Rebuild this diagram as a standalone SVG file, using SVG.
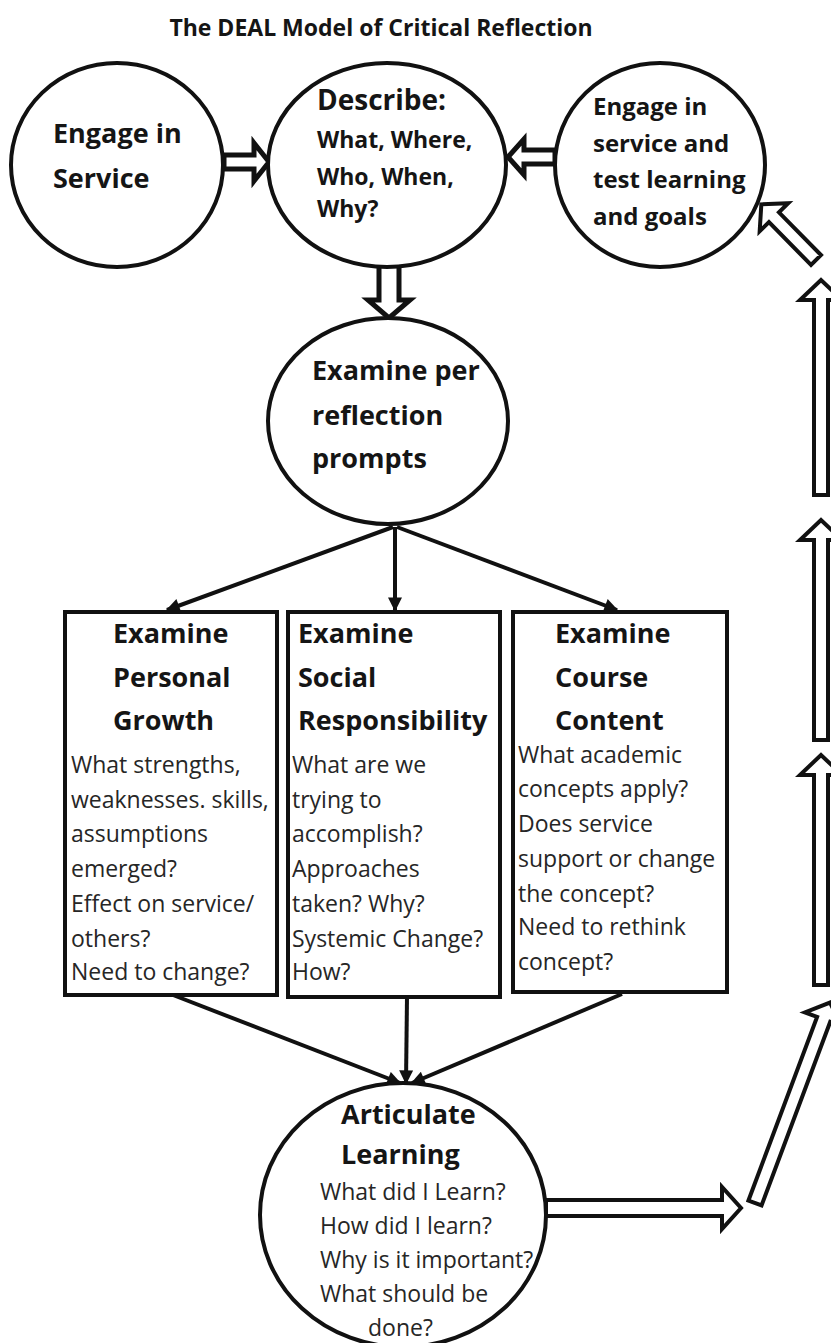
<svg xmlns="http://www.w3.org/2000/svg" width="831" height="1343" viewBox="0 0 831 1343">
<style>
.bg{fill:#ffffff}
.node{fill:#ffffff;stroke:#111;stroke-width:4}
.h{font-family:"Open Sans","Liberation Sans",sans-serif;font-weight:bold;fill:#151515}
.b{font-family:"Open Sans","Liberation Sans",sans-serif;font-weight:normal;fill:#262626}
.line{stroke:#111;stroke-width:4;fill:none}
.block{fill:#ffffff;stroke:#111;stroke-linejoin:miter}
</style>
<defs>
<marker id="ah" viewBox="0 0 10 10" refX="9" refY="5" markerWidth="16" markerHeight="14" markerUnits="userSpaceOnUse" orient="auto">
<path d="M0,0 L10,5 L0,10 z" fill="#111"/>
</marker>
</defs>
<rect class="bg" x="0" y="0" width="831" height="1343"/>
<text class="h" x="381" y="36" font-size="23" text-anchor="middle">The DEAL Model of Critical Reflection</text>

<g id="connectors">
<path class="block" stroke-width="5" d="M224,155 L254,155 L254,143 L269,162 L254,181 L254,169 L224,169 Z"/>
<path class="block" stroke-width="5" d="M555,150 L524,150 L524,139 L508,157 L524,175 L524,164 L555,164 Z"/>
<path class="block" stroke-width="5" d="M379,264 L379,300 L368,300 L389,318 L410,300 L399,300 L399,264 Z"/>
<line class="line" x1="393" y1="527" x2="167" y2="610" marker-end="url(#ah)"/>
<line class="line" x1="395" y1="527" x2="395" y2="610" marker-end="url(#ah)"/>
<line class="line" x1="397" y1="527" x2="617" y2="610" marker-end="url(#ah)"/>
<line class="line" x1="173" y1="995" x2="400" y2="1083" marker-end="url(#ah)"/>
<line class="line" x1="407" y1="997" x2="406" y2="1083" marker-end="url(#ah)"/>
<line class="line" x1="622" y1="994" x2="412" y2="1083" marker-end="url(#ah)"/>
<path class="block" stroke-width="4" d="M546,1200 L722,1200 L722,1187 L741,1208 L722,1229 L722,1216 L546,1216 Z"/>
<path class="block" stroke-width="4" transform="translate(755,1203) rotate(-69.5)" d="M0,-7 L196,-7 L196,-20 L214,0 L196,20 L196,7 L0,7 Z"/>
<path class="block" stroke-width="4" d="M814,985 L814,775 L800,775 L821,755 L842,775 L828,775 L828,985 Z"/>
<path class="block" stroke-width="4" d="M814,740 L814,540 L800,540 L821,520 L842,540 L828,540 L828,740 Z"/>
<path class="block" stroke-width="4" d="M814,495 L814,300 L800,300 L821,280 L842,300 L828,300 L828,495 Z"/>
<path class="block" stroke-width="4" transform="translate(816,260) rotate(-134.5)" d="M0,-7 L60,-7 L60,-20 L78,0 L60,20 L60,7 L0,7 Z"/>
</g>

<g id="engage">
<ellipse class="node" cx="117" cy="165" rx="106" ry="102"/>
<text class="h" font-size="27" x="53" y="143">Engage in</text>
<text class="h" font-size="27" x="53" y="188">Service</text>
</g>

<g id="describe">
<ellipse class="node" cx="387" cy="165" rx="119" ry="102"/>
<text class="h" font-size="28" x="317" y="110">Describe:</text>
<text class="h" font-size="23" x="317" y="148">What, Where,</text>
<text class="h" font-size="23" x="317" y="185">Who, When,</text>
<text class="h" font-size="23" x="317" y="217">Why?</text>
</g>

<g id="engage-test">
<ellipse class="node" cx="660" cy="165" rx="105" ry="102"/>
<text class="h" font-size="24" x="593" y="115">Engage in</text>
<text class="h" font-size="24" x="593" y="152">service and</text>
<text class="h" font-size="24" x="593" y="188">test learning</text>
<text class="h" font-size="24" x="593" y="225">and goals</text>
</g>

<g id="examine">
<ellipse class="node" cx="388" cy="421" rx="120" ry="103"/>
<text class="h" font-size="27" x="312" y="380">Examine per</text>
<text class="h" font-size="27" x="312" y="425">reflection</text>
<text class="h" font-size="27" x="312" y="468">prompts</text>
</g>

<g id="personal">
<rect class="node" x="65" y="612" width="212" height="383"/>
<text class="h" font-size="27" x="113" y="643">Examine</text>
<text class="h" font-size="27" x="113" y="687">Personal</text>
<text class="h" font-size="27" x="113" y="730">Growth</text>
<g class="b" font-size="23">
<text x="71" y="773">What strengths,</text>
<text x="71" y="808">weaknesses. skills,</text>
<text x="71" y="842">assumptions</text>
<text x="71" y="877">emerged?</text>
<text x="71" y="912">Effect on service/</text>
<text x="71" y="947">others?</text>
<text x="71" y="980">Need to change?</text>
</g>
</g>

<g id="social">
<rect class="node" x="288" y="612" width="212" height="385"/>
<text class="h" font-size="27" x="298" y="643">Examine</text>
<text class="h" font-size="27" x="298" y="687">Social</text>
<text class="h" font-size="27" x="298" y="730">Responsibility</text>
<g class="b" font-size="23">
<text x="292" y="773">What are we</text>
<text x="292" y="808">trying to</text>
<text x="292" y="842">accomplish?</text>
<text x="292" y="877">Approaches</text>
<text x="292" y="912">taken? Why?</text>
<text x="292" y="947">Systemic Change?</text>
<text x="292" y="980">How?</text>
</g>
</g>

<g id="course">
<rect class="node" x="513" y="612" width="214" height="380"/>
<text class="h" font-size="27" x="555" y="643">Examine</text>
<text class="h" font-size="27" x="555" y="687">Course</text>
<text class="h" font-size="27" x="555" y="730">Content</text>
<g class="b" font-size="23">
<text x="518" y="763">What academic</text>
<text x="518" y="797">concepts apply?</text>
<text x="518" y="832">Does service</text>
<text x="518" y="867">support or change</text>
<text x="518" y="902">the concept?</text>
<text x="518" y="935">Need to rethink</text>
<text x="518" y="970">concept?</text>
</g>
</g>

<g id="articulate">
<ellipse class="node" cx="403" cy="1215" rx="143" ry="132"/>
<text class="h" font-size="27" x="341" y="1124">Articulate</text>
<text class="h" font-size="27" x="341" y="1164">Learning</text>
<g class="b" font-size="23">
<text x="320" y="1200">What did I Learn?</text>
<text x="320" y="1234">How did I learn?</text>
<text x="320" y="1268">Why is it important?</text>
<text x="320" y="1302">What should be</text>
<text x="368" y="1336">done?</text>
</g>
</g>
</svg>
